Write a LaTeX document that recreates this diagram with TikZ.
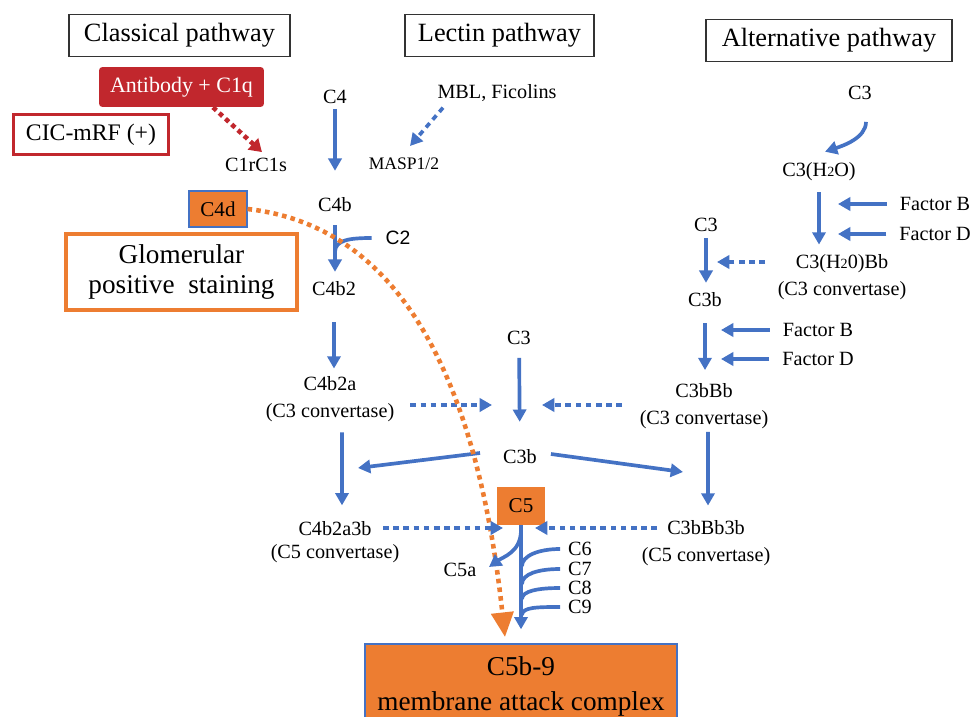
\documentclass[tikz,border=0pt]{standalone}
\usepackage{fontspec}
\setmainfont{Liberation Serif}
\newfontfamily\sanslbl{Liberation Sans}
\usepackage{tikz}
\usetikzlibrary{arrows.meta,positioning}

\definecolor{cblue}{HTML}{4472C4}
\definecolor{corange}{HTML}{ED7D31}
\definecolor{cred}{HTML}{C1272D}

\begin{document}
\begin{tikzpicture}[x=0.02cm, y=-0.02cm,
    lbl/.style={font=\fontsize{11.5}{15}\selectfont, align=center, inner sep=1pt},
    pathbox/.style={draw=black!80, line width=0.7pt, font=\fontsize{15}{18}\selectfont, minimum height=0.84cm, inner sep=0pt},
    hibox/.style={fill=corange, font=\fontsize{12}{14}\selectfont, inner sep=0pt},
    flow/.style={draw=cblue, line width=2.1pt, -{Triangle[length=7pt, width=7.5pt]}},
    branch/.style={draw=cblue, line width=2.1pt},
    dotflow/.style={flow, dash pattern=on 3.2pt off 2.6pt},
    reddot/.style={draw=cred, line width=2.6pt, dash pattern=on 2.6pt off 2.2pt, -{Triangle[length=7pt, width=8.5pt]}},
    orangedot/.style={draw=corange, line width=2.6pt, dash pattern=on 2.6pt off 2.4pt, -{Triangle[length=14pt, width=12.5pt]}}]
    \useasboundingbox (0,0) rectangle (975,717);

    % Pathway headers
    \node[pathbox, minimum width=4.42cm] (classical) at (179.5,35.5) {Classical pathway};
    \node[pathbox, minimum width=3.78cm] (lectin) at (499.5,35.5) {Lectin pathway};
    \node[pathbox, minimum width=4.92cm] (alternative) at (829,40.5) {Alternative pathway};

    % Classical and lectin pathway
    \node[fill=cred, text=white, rounded corners=2pt, minimum width=3.3cm, minimum height=0.8cm, inner sep=0pt, font=\fontsize{12.5}{15}\selectfont] (antibody) at (181.5,87) {Antibody + C1q};
    \node[draw=cred, line width=1.8pt, minimum width=3.1cm, minimum height=0.8cm, inner sep=0pt, font=\fontsize{13.5}{16}\selectfont] (cic) at (91,134.5) {CIC-mRF (+)};
    \node[lbl] (c1rc1s) at (256,165) {C1rC1s};
    \node[lbl] (c4) at (335,97) {C4};
    \node[lbl] (mbl) at (497,93) {MBL, Ficolins};
    \node[lbl, font=\fontsize{10}{12}\selectfont] (masp) at (404,164) {MASP1/2};
    \node[hibox, draw=cblue, line width=0.6pt, minimum width=1.16cm, minimum height=0.72cm] (c4d) at (218,209) {C4d};
    \node[lbl] (c4b) at (335,205) {C4b};
    \node[lbl, font=\sanslbl\fontsize{11}{13}\selectfont] (c2) at (398,238) {C2};
    \node[draw=corange, line width=2pt, minimum width=4.62cm, minimum height=1.52cm, inner sep=0pt, align=center, font=\fontsize{15.5}{17.6}\selectfont] (glom) at (181.5,272) {Glomerular\\positive~~staining};
    \node[lbl] (c4b2) at (334,289) {C4b2};
    \node[lbl] (c4b2a) at (330,399) {C4b2a\\(C3 convertase)};
    \node[lbl, font=\fontsize{11.5}{13}\selectfont] (c4b2a3b) at (335,542) {C4b2a3b\\(C5 convertase)};

    % Common C3 / C5 steps
    \node[lbl] (c3mid) at (519,338) {C3};
    \node[lbl] (c3b) at (520,457) {C3b};
    \node[hibox, minimum width=0.96cm, minimum height=0.76cm] (c5) at (521,506) {C5};
    \node[lbl] (c5a) at (460,570) {C5a};
    \node[lbl] (c6) at (580,549) {C6};
    \node[lbl] (c7) at (580,569) {C7};
    \node[lbl] (c8) at (580,588) {C8};
    \node[lbl] (c9) at (580,607) {C9};
    \node[fill=corange, draw=cblue, line width=0.8pt, minimum width=6.24cm, minimum height=1.7cm, inner sep=0pt, align=center, font=\fontsize{15.5}{19.8}\selectfont] (mac) at (521,686.5) {C5b-9\\membrane attack complex};

    % Alternative pathway
    \node[lbl] (c3alt) at (860,93) {C3};
    \node[lbl] (c3h2o) at (819,172) {C3(H{\fontsize{8}{8}\selectfont 2}O)};
    \node[lbl] (fb1) at (935,204) {Factor B};
    \node[lbl] (fd1) at (935,234) {Factor D};
    \node[lbl] (c3h2obb) at (842,277) {C3(H{\fontsize{8}{8}\selectfont 2}0)Bb\\(C3 convertase)};
    \node[lbl] (c3alt2) at (706,225) {C3};
    \node[lbl] (c3balt) at (705,300) {C3b};
    \node[lbl] (fb2) at (818,330) {Factor B};
    \node[lbl] (fd2) at (818,359) {Factor D};
    \node[lbl] (c3bbb) at (704,406) {C3bBb\\(C3 convertase)};
    \node[lbl] (c3bbb3b) at (706,543) {C3bBb3b\\(C5 convertase)};

    % Free ends of connectors
    \coordinate (c2join) at (335,252);
    \coordinate (c3cross) at (520,405);
    \coordinate (c3bbbout) at (622,405);
    \coordinate (c3bl) at (358,468);
    \coordinate (c3br) at (683,472);
    \coordinate (c4b2a3bout) at (383,528);
    \coordinate (c3bbb3bout) at (657,528);
    \coordinate (c5in) at (520,528);
    \coordinate (c5split) at (521,530);
    \coordinate (c5atip) at (489,567);
    \coordinate (c6join) at (522,566);
    \coordinate (c7join) at (522,584);
    \coordinate (c8join) at (522,599);
    \coordinate (c9join) at (522,615);
    \coordinate (hbbout) at (765,262);
    \coordinate (macin) at (505,637);

    % Classical / lectin arrows
    \draw[reddot] ([xshift=0.63cm]antibody.south) -- ([xshift=0.12cm, yshift=0.08cm]c1rc1s.north);
    \draw[dotflow] ([xshift=-1.08cm, yshift=-0.08cm]mbl.south) -- ([xshift=0.12cm, yshift=0.2cm]masp.north);
    \draw[flow, shorten <=0.06cm, shorten >=0.5cm] (c4) -- (c4b);
    \draw[flow, shorten <=0.22cm, shorten >=0.16cm] (c4b) -- (c4b |- c4b2.north);
    \draw[branch] ([xshift=-0.24cm]c2.west) .. controls +(-22,0) and +(0,-12) .. (c2join);
    \draw[flow, shorten <=0.48cm, shorten >=0.12cm] (c4b2) -- (c4b2 |- c4b2a.north);
    \draw[flow, shorten <=0.18cm, shorten >=0.28cm] ([xshift=0.24cm]c4b2a.south) -- ([xshift=0.14cm]c4b2a3b.north);

    % C3 convertase to C3b
    \draw[dotflow, shorten <=0.28cm, shorten >=0.56cm] (c4b2a.east |- c3cross) -- (c3cross);
    \draw[dotflow, shorten >=0.44cm] (c3bbbout) -- (c3cross);
    \draw[flow, shorten <=0.22cm, shorten >=0.52cm] (c3mid) -- (c3b);
    \draw[flow] ([xshift=-0.42cm, yshift=0.08cm]c3b.west) -- (c3bl);
    \draw[flow] ([xshift=0.24cm, yshift=0.06cm]c3b.east) -- (c3br);

    % Alternative pathway arrows
    \draw[flow] ([xshift=0.12cm, yshift=-0.4cm]c3alt.south) .. controls +(0,16) and +(18,-6) .. ([xshift=0.12cm, yshift=0.18cm]c3h2o.north);
    \draw[flow, shorten <=0.18cm, shorten >=0.16cm] (c3h2o.south) -- (c3h2o.south |- c3h2obb.north);
    \draw[flow, shorten <=0.22cm, shorten >=0.38cm] (fb1.west) -- (fb1.west -| c3h2o.south);
    \draw[flow, shorten <=0.22cm, shorten >=0.38cm] (fd1.west) -- (fd1.west -| c3h2o.south);
    \draw[dotflow, shorten >=0.22cm] (hbbout) -- (hbbout -| c3alt2);
    \draw[flow, shorten <=0.08cm, shorten >=0.16cm] (c3alt2) -- (c3alt2 |- c3balt.north);
    \draw[flow, shorten <=0.22cm, shorten >=0.32cm] (fb2.west) -- (fb2.west -| c3balt.south);
    \draw[flow, shorten <=0.22cm, shorten >=0.32cm] (fd2.west) -- (fd2.west -| c3balt.south);
    \draw[flow, shorten <=0.28cm, shorten >=0.23cm] (c3balt) -- (c3balt |- c3bbb.north);
    \draw[flow, shorten <=0.03cm, shorten >=0.26cm] ([xshift=0.08cm]c3bbb.south) -- ([xshift=0.04cm]c3bbb3b.north);

    % C4d deposition
    \draw[orangedot] (c4d.east) .. controls (391,225) and (475,361) .. (macin);

    % C5 convertase to C5b-9
    \draw[dotflow, shorten >=0.34cm] (c4b2a3bout) -- (c5in);
    \draw[dotflow, shorten >=0.3cm] (c3bbb3bout) -- (c5in);
    \draw[flow, shorten >=0.28cm] (c5.south) -- (c5.south |- mac.north);
    \draw[flow] (c5split) .. controls +(0,22) and +(14,-10) .. (c5atip);
    \draw[branch] ([xshift=-0.12cm]c6.west) .. controls +(-22,0) and +(0,-10) .. (c6join);
    \draw[branch] ([xshift=-0.12cm]c7.west) .. controls +(-22,0) and +(0,-10) .. (c7join);
    \draw[branch] ([xshift=-0.12cm]c8.west) .. controls +(-22,0) and +(0,-8) .. (c8join);
    \draw[branch] ([xshift=-0.12cm]c9.west) .. controls +(-22,0) and +(0,-8) .. (c9join);
\end{tikzpicture}
\end{document}
